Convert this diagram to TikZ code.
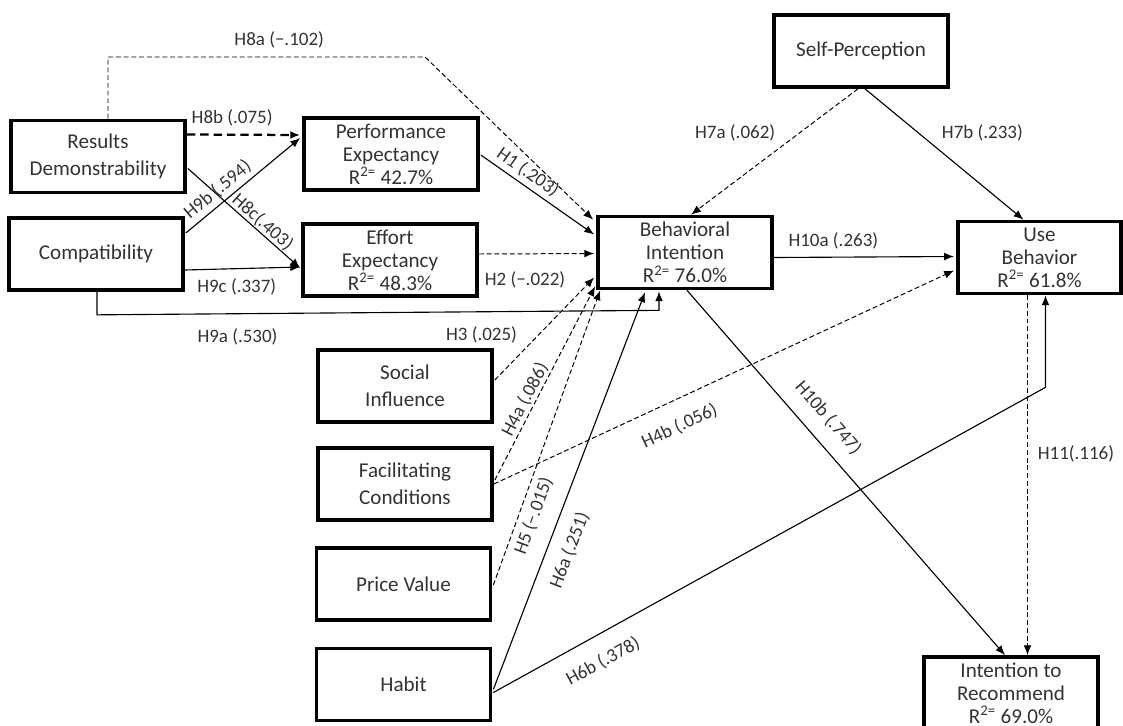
\documentclass[tikz,border=0pt]{standalone}
\usepackage{fontspec}
\setmainfont{Carlito}
\usetikzlibrary{arrows.meta}
\usetikzlibrary{calc}
\usetikzlibrary{positioning}

\begin{document}
\begin{tikzpicture}
	[
	x=0.025cm, y=-0.025cm,
	> = {Latex[length=7pt,width=5.5pt]},
	every node/.style = {text=black!80},
	var/.style = {draw=black, line width=2.6pt, minimum width=4.35cm, minimum height=1.8cm, inner sep=0pt, align=center, font=\fontsize{15}{19.2}\selectfont},
	dep/.style = {var, font=\fontsize{15}{16.4}\selectfont},
	hyp/.style = {font=\fontsize{13.5}{16}\selectfont, inner sep=2pt},
	sig/.style = {->, line width=0.8pt},
	nsig/.style = {->, line width=0.7pt, dash pattern=on 3.5pt off 2pt},
	nsigbold/.style = {->, line width=1.6pt, dash pattern=on 6pt off 3.5pt}
	]
	\useasboundingbox (0,0) rectangle (1123,725);
	\clip (0,0) rectangle (1123,725);

	% constructs
	\node[var] (rd) at (98,156.5) {Results\\Demonstrability};
	\node[var] (comp) at (96,254) {Compatibility};
	\node[dep] (pe) at (391,154) {Performance\\Expectancy\\R\textsuperscript{2=} 42.7\%};
	\node[dep] (ee) at (390,260) {Effort\\Expectancy\\R\textsuperscript{2=} 48.3\%};
	\node[dep] (bi) at (685,252.5) {Behavioral\\Intention\\R\textsuperscript{2=} 76.0\%};
	\node[var] (sp) at (861,51) {Self-Perception};
	\node[dep, minimum width=4.08cm] (ub) at (1039.5,257.5) {Use\\Behavior\\R\textsuperscript{2=} 61.8\%};
	\node[var] (si) at (405,386) {Social\\Influence};
	\node[var] (fc) at (405,484) {Facilitating\\Conditions};
	\node[var] (pv) at (403.5,584) {Price Value};
	\node[var] (habit) at (403.5,684.5) {Habit};
	\node[dep] (ir) at (1011,693) {Intention to\\Recommend\\R\textsuperscript{2=} 69.0\%};

	\coordinate (h8a) at (425,57);

	% antecedents of PE and EE
	\draw[nsig] ($(rd.north)+(10,0)$) |- node[hyp, pos=0.77, above=4pt] {H8a (−.102)} (h8a) -- ($(bi.north west)+(-3,5)$);
	\draw[nsigbold] ($(rd.east)+(0,-22)$) -- node[hyp, pos=0.4, above=3pt] {H8b (.075)} ($(pe.west)+(-2,-19)$);
	\draw[sig] ($(rd.east)+(1,12)$) -- node[hyp, pos=0.61, sloped, above=-1.5pt] {H8c(.403)} ($(ee.west)+(-1,8)$);
	\draw[sig] ($(comp.east)+(1,-21)$) -- node[hyp, pos=0.35, sloped, above=1pt] {H9b (.594)} ($(pe.west)+(-2,-16)$);
	\draw[sig] ($(comp.east)+(0,16)$) -- node[hyp, pos=0.45, below=5pt] {H9c (.337)} ($(ee.west)+(-1,7)$);
	\draw[sig] ($(comp.south)+(1,0)$) -- ++(0,23) -- node[hyp, pos=0.25, below=8.5pt] {H9a (.530)} ($(bi.south)+(-26,20)$) -- ($(bi.south)+(-26,1)$);

	% behavioral intention
	\draw[sig] ($(pe.east)+(1,1)$) -- node[hyp, pos=0.35, sloped, above=1pt] {H1 (.203)} ($(bi.west)+(-2,-18)$);
	\draw[nsig] ($(ee.east)+(0,-6)$) -- node[hyp, pos=0.4, below=10pt] {H2 (−.022)} ($(bi.west)+(-2,1)$);
	\draw[nsig] ($(si.east)+(1,-6)$) -- node[hyp, pos=0.44, left=13pt] {H3 (.025)} ($(bi.west)+(-2,25)$);
	\draw[nsig] ($(fc.east)+(1,-4)$) -- node[hyp, pos=0.39, sloped, above=-1pt] {H4a (.086)} ($(bi.south west)+(-1,-4)$);
	\draw[nsig] ($(pv.east)+(1,1)$) -- node[hyp, pos=0.25, sloped, below=2pt] {H5 (−.015)} ($(bi.south west)+(4,0)$);
	\draw[sig] ($(habit.east)+(1,5)$) -- node[hyp, pos=0.37, sloped, below=7pt] {H6a (.251)} ($(bi.south)+(-40,2)$);
	\draw[nsig] ($(sp.south)+(-3,0)$) -- node[hyp, pos=0.35, left=15pt] {H7a (.062)} ($(bi.north)+(6,0)$);

	% use behavior
	\draw[nsig] (fc.east) -- node[hyp, pos=0.38, sloped, below=10pt] {H4b (.056)} ($(ub.west)+(-2,13)$);
	\draw[sig] ($(habit.east)+(1,8)$) -- node[hyp, pos=0.176, sloped, below=10pt] {H6b (.378)} ($(ub.south)+(6,92)$) -- ($(ub.south)+(6,0)$);
	\draw[sig] ($(sp.south)+(4,0)$) -- node[hyp, pos=0.34, right=14pt] {H7b (.233)} ($(ub.north)+(-16,0)$);
	\draw[sig] ($(bi.east)+(0,5)$) -- node[hyp, pos=0.33, above=3pt] {H10a (.263)} ($(ub.west)+(-2,-1)$);

	% intention to recommend
	\draw[sig] ($(bi.south)+(2,0)$) -- node[hyp, pos=0.39, sloped, above=8pt] {H10b (.747)} ($(ir.north)+(-6,0)$);
	\draw[nsig] ($(ub.south)+(-12,0)$) -- node[hyp, pos=0.44, right=5pt] {H11(.116)} ($(ir.north)+(16.5,0)$);
\end{tikzpicture}
\end{document}
